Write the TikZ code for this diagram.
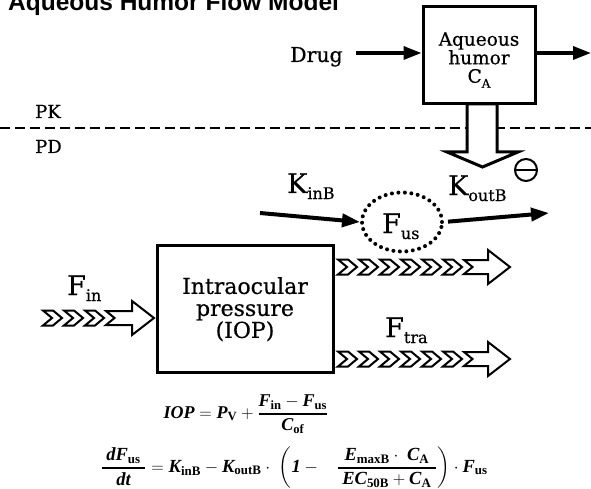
\documentclass[tikz,border=0pt]{standalone}
\usepackage{amsmath}
\usepackage{fontspec}
\setmainfont{DejaVu Serif}[UprightFeatures={FakeBold=0.6}]
\newfontfamily\titlefont{Liberation Sans}
\newfontfamily\eqfont{Liberation Serif}
\usetikzlibrary{arrows.meta,shapes.geometric}
\newcommand\EV[1]{\text{\eqfont\bfseries\itshape #1}}
\newcommand\ES[1]{\text{\eqfont\bfseries #1}}
\newcommand\FS[1]{\fontsize{#1}{#1}\selectfont}
\newcommand\chevflow[4]{%
  \foreach \k in {1,...,#3}{%
    \pgfmathsetmacro\cx{#1+(\k-1)*21}%
    \draw[chev] (\cx,#2-7.5) -- ++(10,0) -- ++(9,7.5) -- ++(-9,7.5) -- ++(-10,0) -- ++(9,-7.5) -- cycle;
  }%
  \pgfmathsetmacro\ax{#1+#3*21}%
  \draw[chev] (\ax,#2-7) -- (#4-22,#2-7) -- (#4-22,#2-17) -- (#4,#2) -- (#4-22,#2+17) -- (#4-22,#2+7) -- (\ax,#2+7) -- (\ax+8.5,#2) -- cycle;
}
\begin{document}
\begin{tikzpicture}[x=1pt,y=-1pt,
  boxst/.style={draw, line width=3pt, inner sep=0pt},
  arr/.style={line width=3.5pt, -{Triangle[length=18pt,width=13pt]}},
  chev/.style={draw, fill=white, line width=2pt, line join=miter},
  lbl/.style={anchor=base west, inner sep=0pt, font=\FS{27}}]
\useasboundingbox (0,0) rectangle (591,489);

% title
\node[anchor=base west, inner sep=0pt, font=\titlefont\bfseries\FS{24.5}] (title) at (8,11) {Aqueous Humor Flow Model};

% PK part
\node[boxst, minimum width=112pt, minimum height=97pt] (aq) at (479,55.5) {};
\node[align=center, inner sep=0pt, font=\FS{18.5}] (aqt) at (479,60)
  {\baselineskip=27.5pt Aqueous\\ humor\\ C\raisebox{-5pt}{\FS{12}A}};
\node[anchor=base west, inner sep=0pt, font=\FS{20.5}] (drug) at (290,62) {Drug};
\coordinate (aqout) at (591,53);
\draw[arr] ([xshift=13pt,yshift=9pt]drug.base east) -- (aq.west |- 0,53);
\draw[arr] (aq.east |- 0,53) -- (aqout);

% PK / PD separator
\coordinate (dl) at (0,128);
\coordinate (dr) at (591,128);
\draw[line width=2.5pt, dash pattern=on 10pt off 5pt] (dl) -- (dr);
\node[anchor=base west, inner sep=0pt, font=\FS{18}] (pk) at (35,118) {PK};
\node[anchor=base west, inner sep=0pt, font=\FS{18}] (pd) at (35,153) {PD};

% hollow down arrow
\draw[line width=3pt, fill=white, line join=miter]
  (467,104) -- (497,104) -- (497,152) -- (518,152) -- (482.5,167) -- (447,152) -- (467,152) -- cycle;
% inhibition sign
\node[draw, circle, line width=2pt, minimum size=22pt, inner sep=0pt] (minus) at (526,170) {};
\draw[line width=2pt] (minus.west) -- (minus.east);

% PD part
\node[draw, ellipse, line width=4pt, dash pattern=on 0pt off 6.5pt, line cap=round,
      minimum width=80pt, minimum height=59pt, inner sep=0pt] (fus) at (402,222) {};
\node[lbl] (fust) at (382,233) {F\raisebox{-6pt}{\FS{16}us}};
\node[lbl] (kin) at (287,193) {K\raisebox{-6pt}{\FS{16}inB}};
\node[lbl] (kout) at (448,195) {K\raisebox{-6pt}{\FS{16}outB}};
\coordinate (kinstart) at (260,213);
\coordinate (koutend) at (549,213);
\draw[arr, line width=4pt] (kinstart) -- (fus.west);
\draw[arr, line width=4pt, shorten <=4pt] (fus.east) -- (koutend);

\node[boxst, minimum width=176pt, minimum height=127pt] (iop) at (245,308.5) {};
\node[align=center, inner sep=0pt, font=\FS{22}, anchor=north] (iopt) at (245,277)
  {\baselineskip=27.5pt Intraocular\\ pressure\\ (IOP)};

\node[lbl] (fin) at (67,295) {F\raisebox{-6pt}{\FS{16}in}};
\node[lbl] (ftra) at (385,337) {F\raisebox{-6pt}{\FS{16}tra}};

\chevflow{43}{318}{3}{154}
\chevflow{338}{267}{6}{510}
\chevflow{338}{359}{6}{510}

% equations
\node[inner sep=0pt, font=\FS{18}] (eq1) at (246,414)
 {$\displaystyle \EV{IOP} = \EV{P}_{\ES{V}} + \genfrac{}{}{1.2pt}{}{\EV{F}_{\ES{in}} - \EV{F}_{\ES{us}}}{\EV{C}_{\ES{of}}}$};
\node[inner sep=0pt, font=\FS{18.5}] (eq2) at (294,468)
 {$\displaystyle \genfrac{}{}{1.2pt}{}{\;\EV{dF}_{\ES{us}}\;}{\EV{dt}} = \EV{K}_{\ES{inB}} - \EV{K}_{\ES{outB}} \cdot\; \left(\EV{1} -\;\;\; \genfrac{}{}{1.2pt}{}{\EV{E}_{\ES{maxB}}\cdot\;\EV{C}_{\ES{A}}}{\;\EV{EC}_{\ES{50B}} + \EV{C}_{\ES{A}}\;}\right)\cdot \EV{F}_{\ES{us}}$};
\end{tikzpicture}
\end{document}
